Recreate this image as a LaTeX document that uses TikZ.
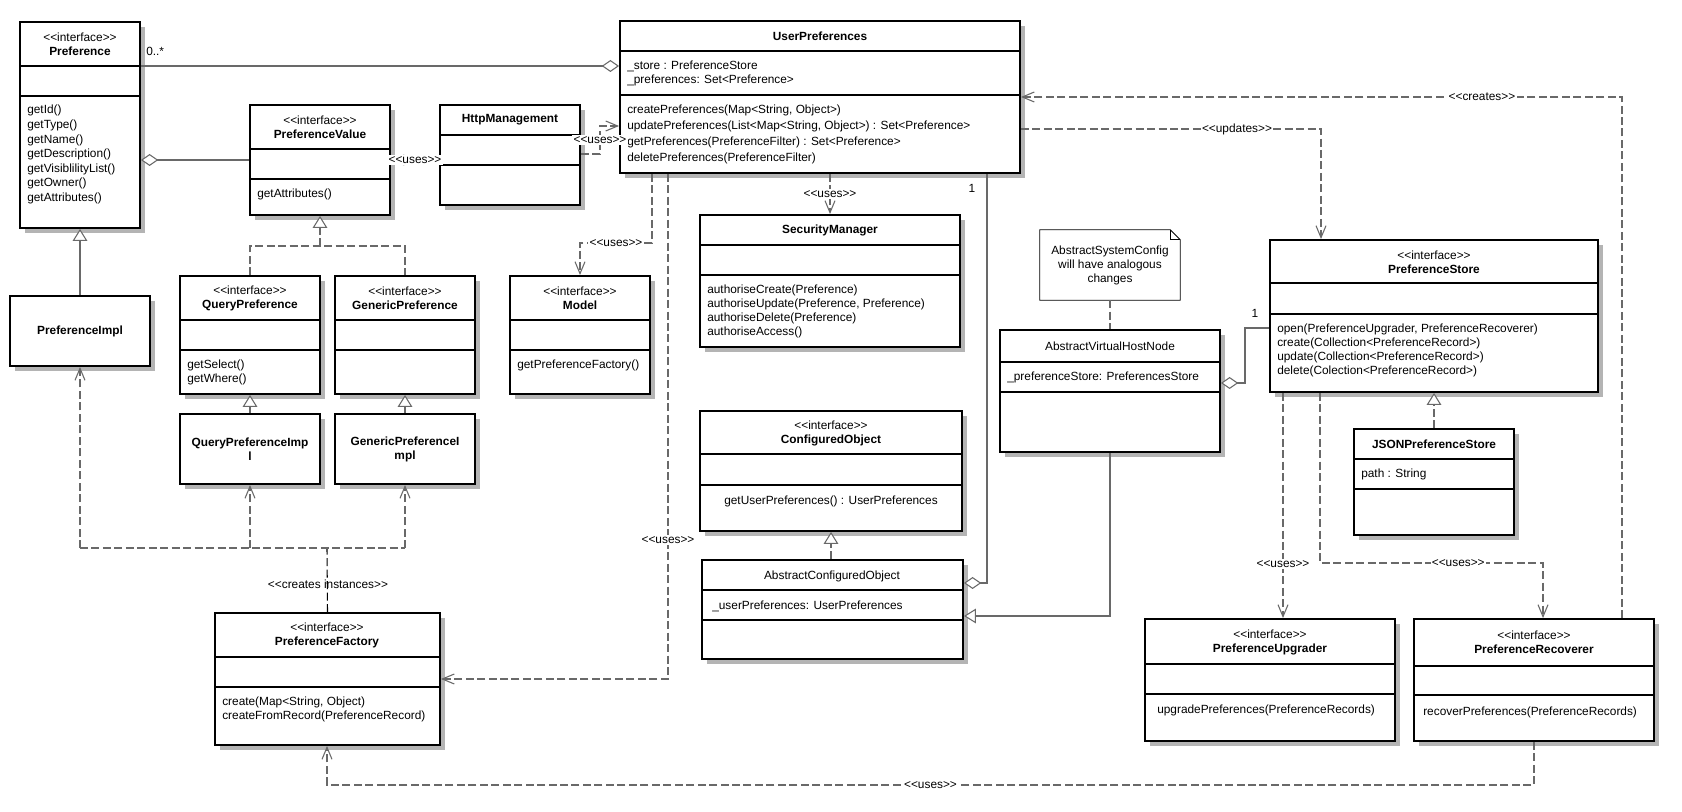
\documentclass[tikz,border=0pt]{standalone}
\usepackage{fontspec}
\newfontfamily\umlfont{Liberation Sans}
\usetikzlibrary{arrows.meta}
\definecolor{conncol}{RGB}{105,105,105}
\definecolor{shadowc}{RGB}{180,180,180}
\tikzset{
  every node/.style={font=\umlfont\fontsize{8.9}{10.5}\selectfont, inner sep=0pt},
  ls/.style={font=\umlfont\fontsize{8.9}{#1}\selectfont},
  bold/.style={font=\umlfont\fontsize{8.9}{10.5}\selectfont\bfseries},
  box/.style={draw=black, line width=1.4pt, fill=white, rectangle, inner sep=0pt},
  boxline/.style={draw=black, line width=1.4pt},
  cline/.style={draw=conncol, line width=0.8pt},
  dl/.style={cline, dash pattern=on 6pt off 2.6pt},
  dep/.style={dl, -{Straight Barb[length=9pt,width=7.5pt]}},
  real/.style={dl, -{Triangle[fill=white,length=9pt,width=11pt]}},
  gen/.style={cline, -{Triangle[fill=white,length=9pt,width=11pt]}},
  agg/.style={cline, -{Diamond[fill=white,length=13pt,width=9pt]}},
  lbl/.style={fill=white, inner sep=1pt},
  lefttxt/.style={anchor=west, align=left},
  ctxt/.style={align=center},
}
\newcommand\umlbox[5]{%
  \fill[shadowc] ({#2+5},{#3+5}) rectangle ({#4+5},{#5+5});
  \node[box, minimum width={(#4-#2)*0.75pt}, minimum height={(#5-#3)*0.75pt}] (#1) at ({(#2+#4)/2},{(#3+#5)/2}) {};
}
\newcommand\umldiv[2]{\draw[boxline] (#1.west |- 0,#2) -- (#1.east |- 0,#2);}
\begin{document}
\begin{tikzpicture}[x=0.75pt,y=-0.75pt]
\useasboundingbox (0,0) rectangle (1682,812);
\fill[white] (0,0) rectangle (1682,812);

% ---------- boxes ----------
\umlbox{pref}{20}{22}{140}{228}\umldiv{pref}{66}\umldiv{pref}{96}
\node[ctxt] (prefH) at (80,44) {<<interface>>\\\textbf{Preference}};
\node[lefttxt, ls=10.9pt] (prefM) at (27,154.5) {getId()\\getType()\\getName()\\getDescription()\\getVisiblilityList()\\getOwner()\\getAttributes()};

\umlbox{pval}{250}{105}{390}{215}\umldiv{pval}{149}\umldiv{pval}{179}
\node[ctxt] (pvalH) at (320,127) {<<interface>>\\\textbf{PreferenceValue}};
\node[lefttxt] (pvalM) at (257,194) {getAttributes()};

\umlbox{http}{440}{105}{580}{205}\umldiv{http}{135}\umldiv{http}{165}
\node[bold] (httpH) at (510,120) {HttpManagement};

\umlbox{up}{620}{21}{1020}{173}\umldiv{up}{51}\umldiv{up}{95}
\node[bold] (upH) at (820,36) {UserPreferences};
\node[lefttxt] (upA) at (627,73) {\_store : PreferenceStore\\\_preferences: Set<Preference>};
\node[lefttxt, ls=11.8pt] (upM) at (627,134.5) {createPreferences(Map<String, Object>)\\updatePreferences(List<Map<String, Object>) : Set<Preference>\\getPreferences(PreferenceFilter) : Set<Preference>\\deletePreferences(PreferenceFilter)};

\umlbox{pimpl}{10}{296}{150}{366}
\node[bold] (pimplH) at (80,331) {PreferenceImpl};

\umlbox{qp}{180}{276}{320}{394}\umldiv{qp}{320}\umldiv{qp}{350}
\node[ctxt] (qpH) at (250,298) {<<interface>>\\\textbf{QueryPreference}};
\node[lefttxt] (qpM) at (187,372) {getSelect()\\getWhere()};

\umlbox{gp}{335}{276}{475}{394}\umldiv{gp}{320}\umldiv{gp}{350}
\node[ctxt] (gpH) at (405,298) {<<interface>>\\\textbf{GenericPreference}};

\umlbox{model}{510}{276}{650}{394}\umldiv{model}{320}\umldiv{model}{350}
\node[ctxt] (modelH) at (580,298) {<<interface>>\\\textbf{Model}};
\node[lefttxt] (modelM) at (517,365) {getPreferenceFactory()};

\umlbox{qpi}{180}{414}{320}{484}
\node[bold, align=center] (qpiH) at (250,449) {QueryPreferenceImp\\l};

\umlbox{gpi}{335}{414}{475}{484}
\node[bold, align=center] (gpiH) at (405,449) {GenericPreferenceI\\mpl};

\umlbox{sm}{700}{215}{960}{347}\umldiv{sm}{245}\umldiv{sm}{275}
\node[bold] (smH) at (830,230) {SecurityManager};
\node[lefttxt] (smM) at (707,311) {authoriseCreate(Preference)\\authoriseUpdate(Preference, Preference)\\authoriseDelete(Preference)\\authoriseAccess()};

\umlbox{co}{700}{411}{962}{531}\umldiv{co}{454}\umldiv{co}{485}
\node[ctxt] (coH) at (831,433) {<<interface>>\\\textbf{ConfiguredObject}};
\node (coM) at (831,501) {getUserPreferences() : UserPreferences};

\umlbox{aco}{702}{560}{963}{659}\umldiv{aco}{590}\umldiv{aco}{620}
\node (acoH) at (832,576) {AbstractConfiguredObject};
\node[lefttxt] (acoA) at (712,606) {\_userPreferences: UserPreferences};

% note
\node[ctxt, minimum width=105pt, minimum height=52.5pt] (note) at (1110,265) {AbstractSystemConfig\\will have analogous\\changes};
\draw[black, line width=0.7pt] (note.north west) -- ([xshift=-7.5pt]note.north east) -- ([yshift=-7.5pt]note.north east) -- (note.south east) -- (note.south west) -- cycle;
\draw[black, line width=0.7pt] ([xshift=-7.5pt]note.north east) -- ([xshift=-7.5pt,yshift=-7.5pt]note.north east) -- ([yshift=-7.5pt]note.north east);

\umlbox{avhn}{1000}{330}{1220}{452}\umldiv{avhn}{362}\umldiv{avhn}{392}
\node (avhnH) at (1110,346) {AbstractVirtualHostNode};
\node[lefttxt] (avhnA) at (1007,377) {\_preferenceStore: PreferencesStore};

\umlbox{ps}{1270}{240}{1598}{392}\umldiv{ps}{283}\umldiv{ps}{314}
\node[ctxt] (psH) at (1434,262) {<<interface>>\\\textbf{PreferenceStore}};
\node[lefttxt] (psM) at (1277,350) {open(PreferenceUpgrader, PreferenceRecoverer)\\create(Collection<PreferenceRecord>)\\update(Collection<PreferenceRecord>)\\delete(Colection<PreferenceRecord>)};

\umlbox{json}{1354}{429}{1514}{535}\umldiv{json}{459}\umldiv{json}{489}
\node[bold] (jsonH) at (1434,444) {JSONPreferenceStore};
\node[lefttxt] (jsonA) at (1361,474) {path : String};

\umlbox{pf}{215}{613}{440}{745}\umldiv{pf}{657}\umldiv{pf}{687}
\node[ctxt] (pfH) at (327,635) {<<interface>>\\\textbf{PreferenceFactory}};
\node[lefttxt] (pfM) at (222,709) {create(Map<String, Object)\\createFromRecord(PreferenceRecord)};

\umlbox{pu}{1145}{619}{1395}{741}\umldiv{pu}{664}\umldiv{pu}{694}
\node[ctxt] (puH) at (1270,642) {<<interface>>\\\textbf{PreferenceUpgrader}};
\node[lefttxt] (puM) at (1157,710) {upgradePreferences(PreferenceRecords)};

\umlbox{pr}{1414}{619}{1654}{741}\umldiv{pr}{666}\umldiv{pr}{695}
\node[ctxt] (prH) at (1534,642.5) {<<interface>>\\\textbf{PreferenceRecoverer}};
\node[lefttxt] (prM) at (1423,712) {recoverPreferences(PreferenceRecords)};

% ---------- connectors ----------
\draw[agg] (pref.east |- 0,66) -- (up.west |- 0,66);
\node[anchor=west] (mult0) at (146,51) {0..*};
\draw[agg] (pval.west |- 0,160) -- (pref.east |- 0,160);
\draw[dep] (http.west |- 0,160) -- node[lbl] (lbA) {<<uses>>} (pval.east |- 0,160);
\draw[dep] (http.east |- 0,154) -- (600,154) -- node[lbl] (lbB) {<<uses>>} (600,126) -- (up.west |- 0,126);
\draw[dep] (up.south -| 652,0) -- (652,243) -- node[lbl] (lbC) {<<uses>>} (580,243) -- (model.north);
\draw[dep] (up.south -| 668,0) -- node[lbl, pos=0.725] (lbD) {<<uses>>} (668,679) -- (pf.east |- 0,679);
\draw[dep] (up.south -| 830,0) -- node[lbl] (lbE) {<<uses>>} (sm.north -| 830,0);
\draw[agg] (up.south -| 987,0) -- (987,583) -- (aco.east |- 0,583);
\node (mult1) at (972,188) {1};
\draw[gen] (avhn.south) -- (1110,616) -- (aco.east |- 0,616);
\draw[real] (aco.north -| 831,0) -- (co.south -| 831,0);
\draw[dl] (note.south) -- (avhn.north);
\draw[agg] (ps.west |- 0,328) -- (1245,328) -- (1245,383) -- (avhn.east |- 0,383);
\node (mult2) at (1255,313) {1};
\draw[dep] (up.east |- 0,129) -- node[lbl, pos=0.72] (lbF) {<<updates>>} (1321,129) -- (ps.north -| 1321,0);
\draw[dep] (pr.north -| 1622,0) -- (1622,97) -- node[lbl, pos=0.233] (lbG) {<<creates>>} (up.east |- 0,97);
\draw[real] (json.north -| 1434,0) -- (ps.south -| 1434,0);
\draw[dep] (ps.south -| 1283,0) -- node[lbl, pos=0.76] (lbH) {<<uses>>} (pu.north -| 1283,0);
\draw[dep] (ps.south -| 1320,0) -- (1320,563) -- node[lbl, pos=0.62] (lbI) {<<uses>>} (1543,563) -- (pr.north -| 1543,0);
\draw[dep] (pr.south -| 1534,0) -- (1534,785) -- node[lbl] (lbJ) {<<uses>>} (327,785) -- (pf.south -| 327,0);

% creates instances
\coordinate (cjA) at (80,548);
\coordinate (cjB) at (250,548);
\coordinate (cjC) at (327,548);
\coordinate (cjD) at (405,548);
\draw[dl, draw=black] (pf.north) -- (cjC);
\draw[dl] (cjA) -- (cjD);
\draw[dep] (cjA) -- (pimpl.south);
\draw[dep] (cjB) -- (qpi.south);
\draw[dep] (cjD) -- (gpi.south);
\node (lbK) at (328,584) {<<creates instances>>};

% realizations
\draw[real] (qpi.north) -- (qp.south);
\draw[real] (gpi.north) -- (gp.south);
\coordinate (rjA) at (250,246);
\coordinate (rjB) at (320,246);
\coordinate (rjC) at (405,246);
\draw[dl] (qp.north) -- (rjA) -- (rjC) -- (gp.north);
\draw[real] (rjB) -- (pval.south);
\draw[gen] (pimpl.north) -- (pref.south);
\end{tikzpicture}
\end{document}
